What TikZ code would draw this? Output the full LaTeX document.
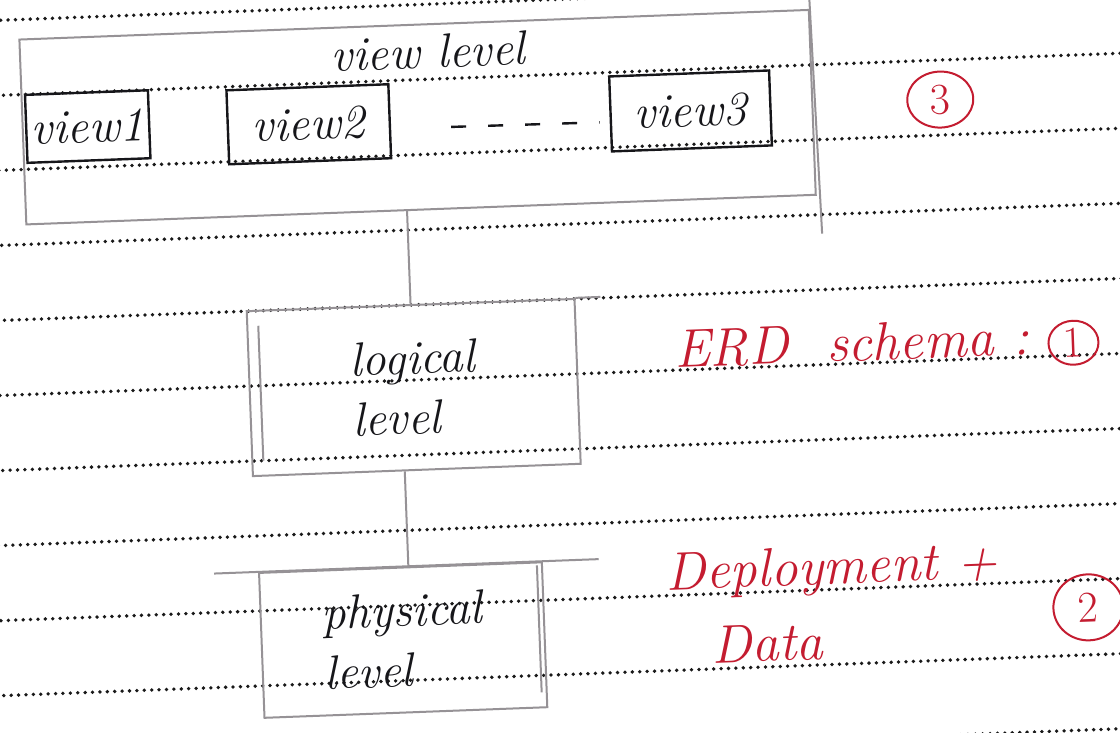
\documentclass[tikz,border=0pt]{standalone}
\usetikzlibrary{shapes.geometric}
\definecolor{ink}{RGB}{22,22,26}
\definecolor{pencil}{RGB}{150,146,150}
\definecolor{redink}{RGB}{196,28,48}
\definecolor{ruledot}{RGB}{25,25,25}
\begin{document}
\begin{tikzpicture}[x=0.5pt,y=-0.5pt,
  handtext/.style={font=\fontsize{24}{30}\selectfont\itshape, text=ink},
  redtext/.style={font=\fontsize{27}{32}\selectfont\itshape, text=redink},
  inkbox/.style={draw=ink, line width=1.2pt, inner sep=0pt, handtext},
  pencilbox/.style={draw=pencil, line width=1pt, inner sep=0pt},
  pencilline/.style={draw=pencil, line width=1pt},
  ruling/.style={draw=ruledot, line width=1.9pt, line cap=round, dash pattern=on 0pt off 3.7pt},
  numring/.style={ellipse, draw=redink, line width=1pt, inner sep=0pt, text=redink, font=\fontsize{22}{26}\selectfont},
]
\useasboundingbox (0,0) rectangle (1120,733);
\fill[white] (0,0) rectangle (1120,733);
\clip (0,0) rectangle (1120,733);
\begin{scope}[rotate around={2.15:(560,366)}, transform shape]
  % ruled paper
  \foreach \k in {0,...,10} \draw[ruling] (-60,{75*\k-0.5}) -- (1180,{75*\k-0.5});

  % view level
  \node[pencilbox, minimum width=395pt, minimum height=92.5pt] (container) at (427,112) {};
  \draw[pencilline] ([yshift=5pt]container.north east) -- ([shift={(2pt,-19pt)}]container.south east);
  \node[handtext] (viewlevel) at (440,47) {view level};
  \node[inkbox, minimum width=61.5pt, minimum height=34pt] (view1) at (97,109) {view1};
  \node[inkbox, minimum width=81pt, minimum height=37pt] (view2) at (318,115) {view2};
  \node[inkbox, minimum width=80pt, minimum height=37.5pt] (view3) at (700,116) {view3};
  \draw[ink, line width=1.2pt, dash pattern=on 7.5pt off 11pt]
    ([xshift=30pt,yshift=-4pt]view2.east) -- ([xshift=-5pt,yshift=-4pt]view3.west);
  \node[numring, minimum width=33pt, minimum height=28pt] (n3) at (950,114) {3};

  % logical level
  \node[pencilbox, minimum width=164pt, minimum height=82.5pt, handtext, align=left] (logical) at (413,382) {logical\\level};
  \draw[pencilline] (logical.north east) -- ++(25,0);
  \draw[pencilline] ([xshift=6pt,yshift=-8pt]logical.north west) -- ([xshift=6pt,yshift=8pt]logical.south west);
  \draw[pencilline] (logical.north) -- (logical.north |- container.south);

  % physical level
  \node[pencilbox, minimum width=141.5pt, minimum height=72.5pt, handtext, align=left] (physical) at (393,634) {physical\\level};
  \draw[pencilline] ([xshift=-22pt]physical.north west) -- ([xshift=28pt]physical.north east);
  \draw[pencilline] ([xshift=-3pt,yshift=-2pt]physical.north east) -- ([xshift=-3pt,yshift=8pt]physical.south east);
  \coordinate (lp) at ([xshift=-6pt]logical.south);
  \draw[pencilline] (lp) -- (lp |- physical.north);

  % red notes
  \node[redtext, anchor=base west] (erd) at (668,372) {ERD\ \ schema :};
  \node[numring, minimum width=25pt, minimum height=22pt] (n1) at (1074,362) {1};
  \node[redtext, anchor=base west] (deploy) at (651,594) {Deployment +};
  \node[redtext, anchor=base west] (data) at (694,669) {Data};
  \node[numring, minimum width=35pt, minimum height=33pt] (n2) at (1079,627) {2};
\end{scope}
\end{tikzpicture}
\end{document}
